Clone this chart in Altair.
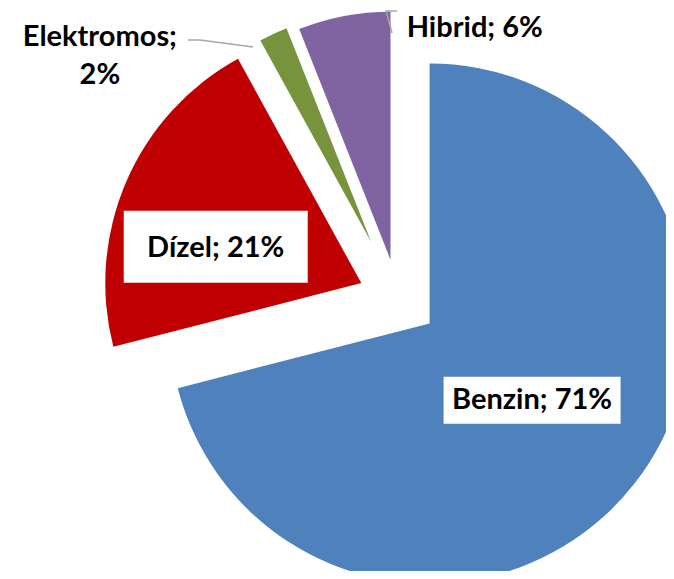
import math
import altair as alt
import pandas as pd

# ---- data ----
categories = ["Benzin", "Dízel", "Elektromos", "Hibrid"]
values = [71, 21, 2, 6]
label_texts = ["Benzin; 71%", "Dízel; 21%", "Elektromos;\n2%", "Hibrid; 6%"]

# ---- style ----
colors = ["#4F81BD", "#C00000", "#77933C", "#8064A2"]
explode = [40, 40, 63, 40]          # px offset of each slice along its bisector
radii = [260, 256, 230, 248]        # px radius of each slice
label_dist = [128, 150, 330, 250]   # label distance from slice tip
label_ang = [126.8, 284.0, 304.7, 19.7]  # label direction (deg, clockwise from 12 o'clock)
label_dy = [0, 1, -17, 4]           # small vertical nudges of label text
box_w = [177, 184, 0, 0]
box_h = [47, 72, 0, 0]
M = 8                                # page margin
CX, CY = 398 - M, 299 - M            # pie centre in chart coords
W, H = 674 - 2 * M, 579 - 2 * M
FONT = "Lato"
FS = 29

total = sum(values)
rows = []
acc = 0.0
for i, (cat, v) in enumerate(zip(categories, values)):
    t0 = acc / total * 2 * math.pi
    acc += v
    t1 = acc / total * 2 * math.pi
    mid = (t0 + t1) / 2
    vx = CX + explode[i] * math.sin(mid)
    vy = CY - explode[i] * math.cos(mid)
    la = math.radians(label_ang[i])
    lx = vx + label_dist[i] * math.sin(la)
    ly = vy - label_dist[i] * math.cos(la)
    rows.append(dict(cat=cat, value=v, t0=t0, t1=t1, vx=vx, vy=vy, r=radii[i],
                     color=colors[i], label=label_texts[i], lx=lx, ly=ly + label_dy[i],
                     bx0=lx - box_w[i] / 2, bx1=lx + box_w[i] / 2,
                     by0=ly - box_h[i] / 2, by1=ly + box_h[i] / 2,
                     hasbox=box_w[i] > 0))
df = pd.DataFrame(rows)

# leader lines for outside labels (chart coords)
leaders = pd.DataFrame([
    dict(g="Elektromos", o=0, x=188 - M, y=40 - M),
    dict(g="Elektromos", o=1, x=200 - M, y=40 - M),
    dict(g="Elektromos", o=2, x=253 - M, y=47 - M),
    dict(g="Hibrid", o=0, x=392 - M, y=33 - M),
    dict(g="Hibrid", o=1, x=386 - M, y=11 - M),
    dict(g="Hibrid", o=2, x=397 - M, y=11 - M),
])

base = alt.Chart(df)

arcs = base.mark_arc(stroke=None).encode(
    x=alt.X("vx:Q", scale=None, axis=None),
    y=alt.Y("vy:Q", scale=None, axis=None),
    theta=alt.Theta("t0:Q", scale=None, stack=None),
    theta2="t1:Q",
    radius=alt.Radius("r:Q", scale=None),
    color=alt.Color("color:N", scale=None, legend=None),
)

boxes = base.transform_filter("datum.hasbox").mark_rect(color="white").encode(
    x=alt.X("bx0:Q", scale=None, axis=None),
    x2="bx1:Q",
    y=alt.Y("by0:Q", scale=None, axis=None),
    y2="by1:Q",
)

texts = base.mark_text(
    font=FONT, fontSize=FS, fontWeight="bold", color="black",
    align="center", baseline="middle", lineBreak="\n", lineHeight=38,
).encode(
    x=alt.X("lx:Q", scale=None, axis=None),
    y=alt.Y("ly:Q", scale=None, axis=None),
    text="label:N",
)

lines = alt.Chart(leaders).mark_line(color="#A6A6A6", strokeWidth=1.5).encode(
    x=alt.X("x:Q", scale=None, axis=None),
    y=alt.Y("y:Q", scale=None, axis=None),
    detail="g:N",
    order="o:Q",
)

chart = alt.layer(arcs, lines, boxes, texts).properties(
    width=W, height=H, padding=0, autosize="none",
).configure_view(stroke=None)

chart.save("out.html", embed_options={"renderer": "svg", "actions": False})
